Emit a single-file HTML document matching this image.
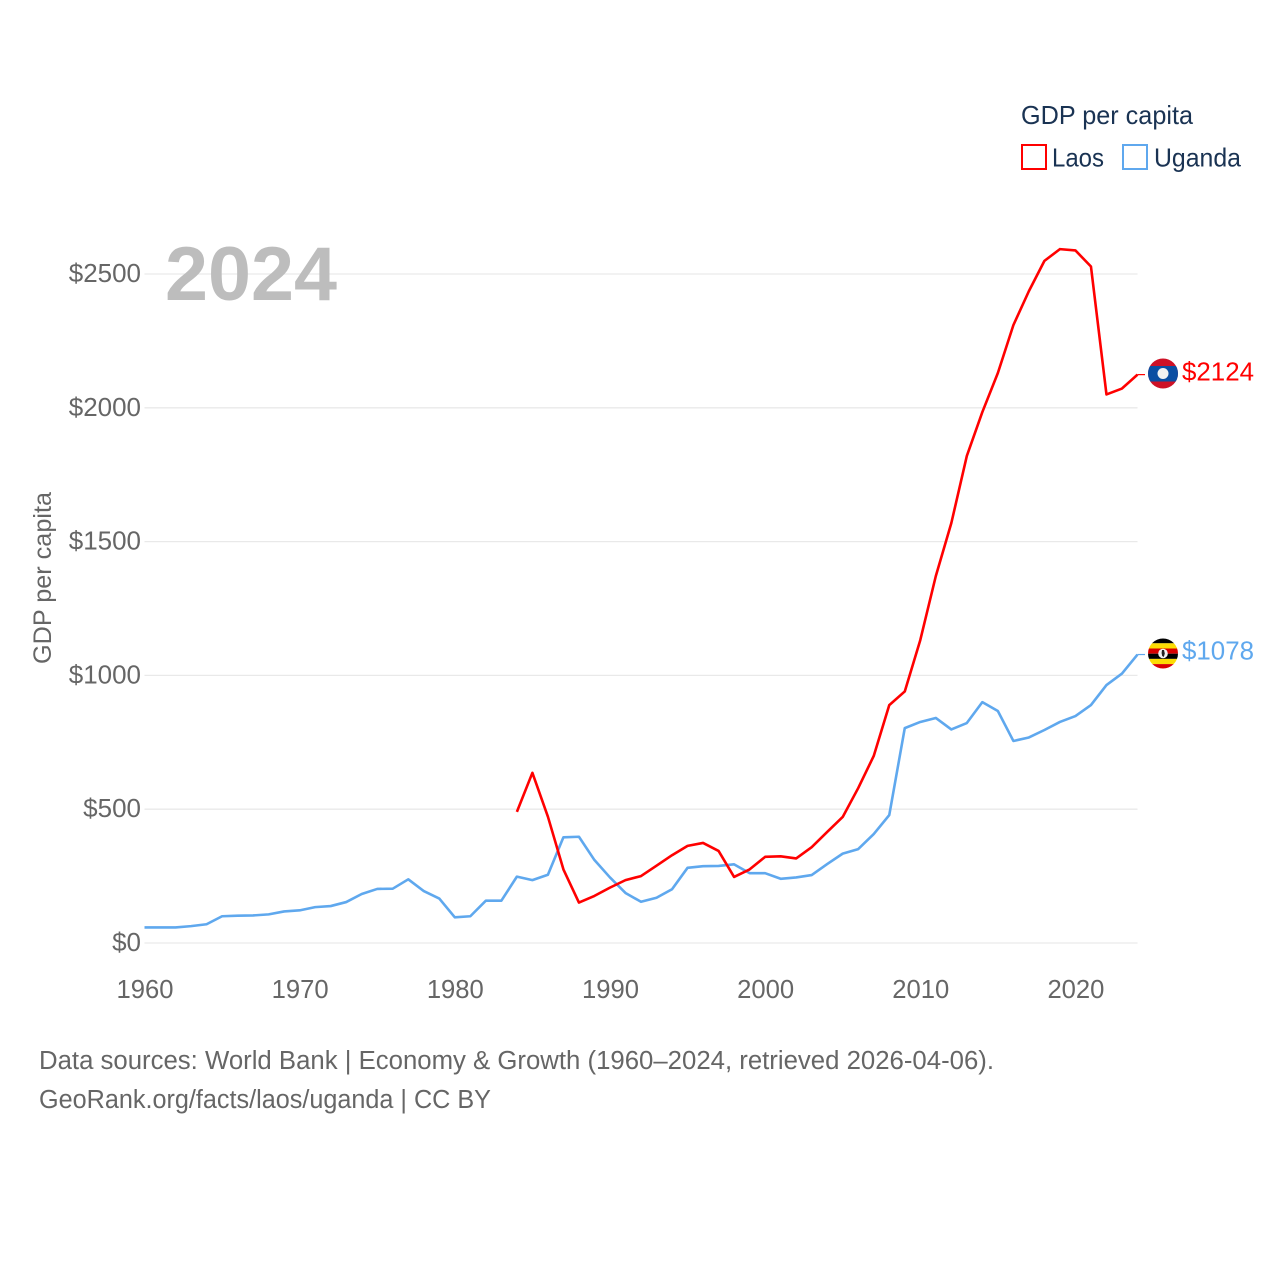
<!DOCTYPE html>
<html lang="en">
<head>
<meta charset="utf-8">
<title>GDP per capita: Laos and Uganda</title>
<style>
html,body{margin:0;padding:0;background:#fff;}
svg{display:block;font-family:"Liberation Sans",sans-serif;}
</style>
</head>
<body>
<svg id="chart" width="1280" height="1280" viewBox="0 0 1280 1280" xmlns="http://www.w3.org/2000/svg">
  <defs>
    <clipPath id="laos-clip"><circle cx="1163" cy="373.5" r="15"/></clipPath>
    <clipPath id="uganda-clip"><circle cx="1163" cy="653.5" r="15"/></clipPath>
  </defs>
  <rect width="1280" height="1280" fill="#fff"/>
  <g id="grid"></g>
  <g id="y-ticks"></g>
  <g id="x-ticks"></g>
  <text x="165" y="300" font-size="76" font-weight="700" fill="#bdbdbd" textLength="172" lengthAdjust="spacingAndGlyphs">2024</text>
  <text transform="translate(51,664) rotate(-90)" font-size="25" fill="#666" textLength="172" lengthAdjust="spacingAndGlyphs">GDP per capita</text>
  <g id="lines"></g>

  <g>
    <text x="1021" y="124" font-size="26" fill="#1a3353" textLength="172" lengthAdjust="spacingAndGlyphs">GDP per capita</text>
    <rect x="1022" y="145" width="24" height="24" fill="#fff" stroke="#ff0000" stroke-width="2"/>
    <text x="1052" y="166.5" font-size="26" fill="#1a3353" textLength="52" lengthAdjust="spacingAndGlyphs">Laos</text>
    <rect x="1123" y="145" width="24" height="24" fill="#fff" stroke="#5fa8ee" stroke-width="2"/>
    <text x="1154" y="166.5" font-size="26" fill="#1a3353" textLength="87" lengthAdjust="spacingAndGlyphs">Uganda</text>
  </g>

  <g clip-path="url(#laos-clip)">
    <rect x="1148" y="358" width="30" height="31" fill="#ce1126"/>
    <rect x="1148" y="366" width="30" height="15.5" fill="#0b4ea2"/>
    <circle cx="1163" cy="373.5" r="5.5" fill="#f2f2f2"/>
  </g>
  <text x="1182" y="380.5" font-size="26" fill="#ff0000" textLength="72" lengthAdjust="spacingAndGlyphs">$2124</text>

  <g clip-path="url(#uganda-clip)">
    <rect x="1148" y="638" width="30" height="5.3" fill="#000"/>
    <rect x="1148" y="643.3" width="30" height="5.2" fill="#fcdc04"/>
    <rect x="1148" y="648.5" width="30" height="5.2" fill="#d90000"/>
    <rect x="1148" y="653.7" width="30" height="5.2" fill="#000"/>
    <rect x="1148" y="658.9" width="30" height="5.2" fill="#fcdc04"/>
    <rect x="1148" y="664.1" width="30" height="5.2" fill="#d90000"/>
    <circle cx="1163" cy="653.5" r="4.8" fill="#f2f2f2"/>
    <path d="M1162 650l2 0 .8 3.5-1 3.5-1.6-1-.6-3z" fill="#222"/>
  </g>
  <text x="1182" y="659.5" font-size="26" fill="#5fa8ee" textLength="72" lengthAdjust="spacingAndGlyphs">$1078</text>

  <text x="39" y="1069" font-size="25.5" fill="#666" textLength="955" lengthAdjust="spacingAndGlyphs">Data sources: World Bank | Economy &amp; Growth (1960–2024, retrieved 2026-04-06).</text>
  <text x="39" y="1108" font-size="25.5" fill="#666" textLength="452" lengthAdjust="spacingAndGlyphs">GeoRank.org/facts/laos/uganda | CC BY</text>
</svg>
<script>
const startYear = 1960;
const endYear = 2024;
const yTicks = [0, 500, 1000, 1500, 2000, 2500];
const yTickLabels = ["$0", "$500", "$1000", "$1500", "$2000", "$2500"];
const xTicks = [1960, 1970, 1980, 1990, 2000, 2010, 2020];
const xTickLabels = ["1960", "1970", "1980", "1990", "2000", "2010", "2020"];

const ugandaValues = [58, 58, 58, 63, 70, 100, 102, 103, 107, 118, 122, 134, 138, 153, 183, 202, 203, 238, 194, 166, 96, 100, 158, 158, 248, 235, 255, 395, 397, 310, 245, 187, 154, 169, 201, 281, 287, 288, 294, 261, 261, 240, 245, 254, 295, 334, 351, 407, 478, 803, 826, 841, 798, 822, 900, 867, 755, 768, 796, 826, 848, 889, 964, 1007, 1078];
const laosStartYear = 1984;
const laosValues = [490, 636, 472, 275, 151, 176, 207, 235, 250, 289, 328, 363, 374, 344, 247, 275, 322, 324, 316, 358, 415, 471, 579, 699, 889, 940, 1132, 1371, 1569, 1820, 1984, 2130, 2309, 2436, 2549, 2593, 2588, 2528, 2050, 2072, 2124];

const SVG_NS = "http://www.w3.org/2000/svg";
const plotLeft = 144.5;
const plotRight = 1137.5;
const plotBottom = 943;
const plotTop = 274;

function xScale(year) {
  return plotLeft + (year - startYear) * (plotRight - plotLeft) / (endYear - startYear);
}
function yScale(value) {
  return plotBottom - value * (plotBottom - plotTop) / 2500;
}
function make(tag, attrs, parent) {
  const el = document.createElementNS(SVG_NS, tag);
  for (const k in attrs) el.setAttribute(k, attrs[k]);
  parent.appendChild(el);
  return el;
}

const gridGroup = document.getElementById("grid");
const yGroup = document.getElementById("y-ticks");
const xGroup = document.getElementById("x-ticks");
const lineGroup = document.getElementById("lines");

yTicks.forEach(function (v, i) {
  const line = make("line", {x1: plotLeft, x2: plotRight, y1: yScale(v), y2: yScale(v), stroke: "#e9e9e9", "stroke-width": 1.3}, gridGroup);
  
  
  const label = yTickLabels[i];
  const w = label.length * 14.45;
  const t = make("text", {x: 141 - w, y: yScale(v) + 8, "font-size": 25.5, fill: "#666", textLength: w, lengthAdjust: "spacingAndGlyphs"}, yGroup);
  t.textContent = label;
  
  
});

xTicks.forEach(function (yr, i) {
  const t = make("text", {x: xScale(yr) - 28, y: 998, "font-size": 25.5, fill: "#666", textLength: 57, lengthAdjust: "spacingAndGlyphs"}, xGroup);
  t.textContent = xTickLabels[i];
  
  
});

function drawSeries(values, firstYear, color) {
  const pts = values.map(function (v, i) {
    return xScale(firstYear + i).toFixed(2) + "," + yScale(v).toFixed(2);
  }).join(" ");
  return make("polyline", {points: pts, fill: "none", stroke: color, "stroke-width": 2.6, "stroke-linejoin": "round"}, lineGroup);
}
function drawConnector(value, color) {
  return make("line", {x1: xScale(endYear), x2: xScale(endYear) + 7.5, y1: yScale(value), y2: yScale(value), stroke: color, "stroke-width": 1.2}, lineGroup);
}

const ugandaLine = drawSeries(ugandaValues, startYear, "#5fa8ee");


const laosLine = drawSeries(laosValues, laosStartYear, "#ff0000");


const ugandaConnector = drawConnector(ugandaValues[ugandaValues.length - 1], "#5fa8ee");


const laosConnector = drawConnector(laosValues[laosValues.length - 1], "#ff0000");


</script>
</body>
</html>
